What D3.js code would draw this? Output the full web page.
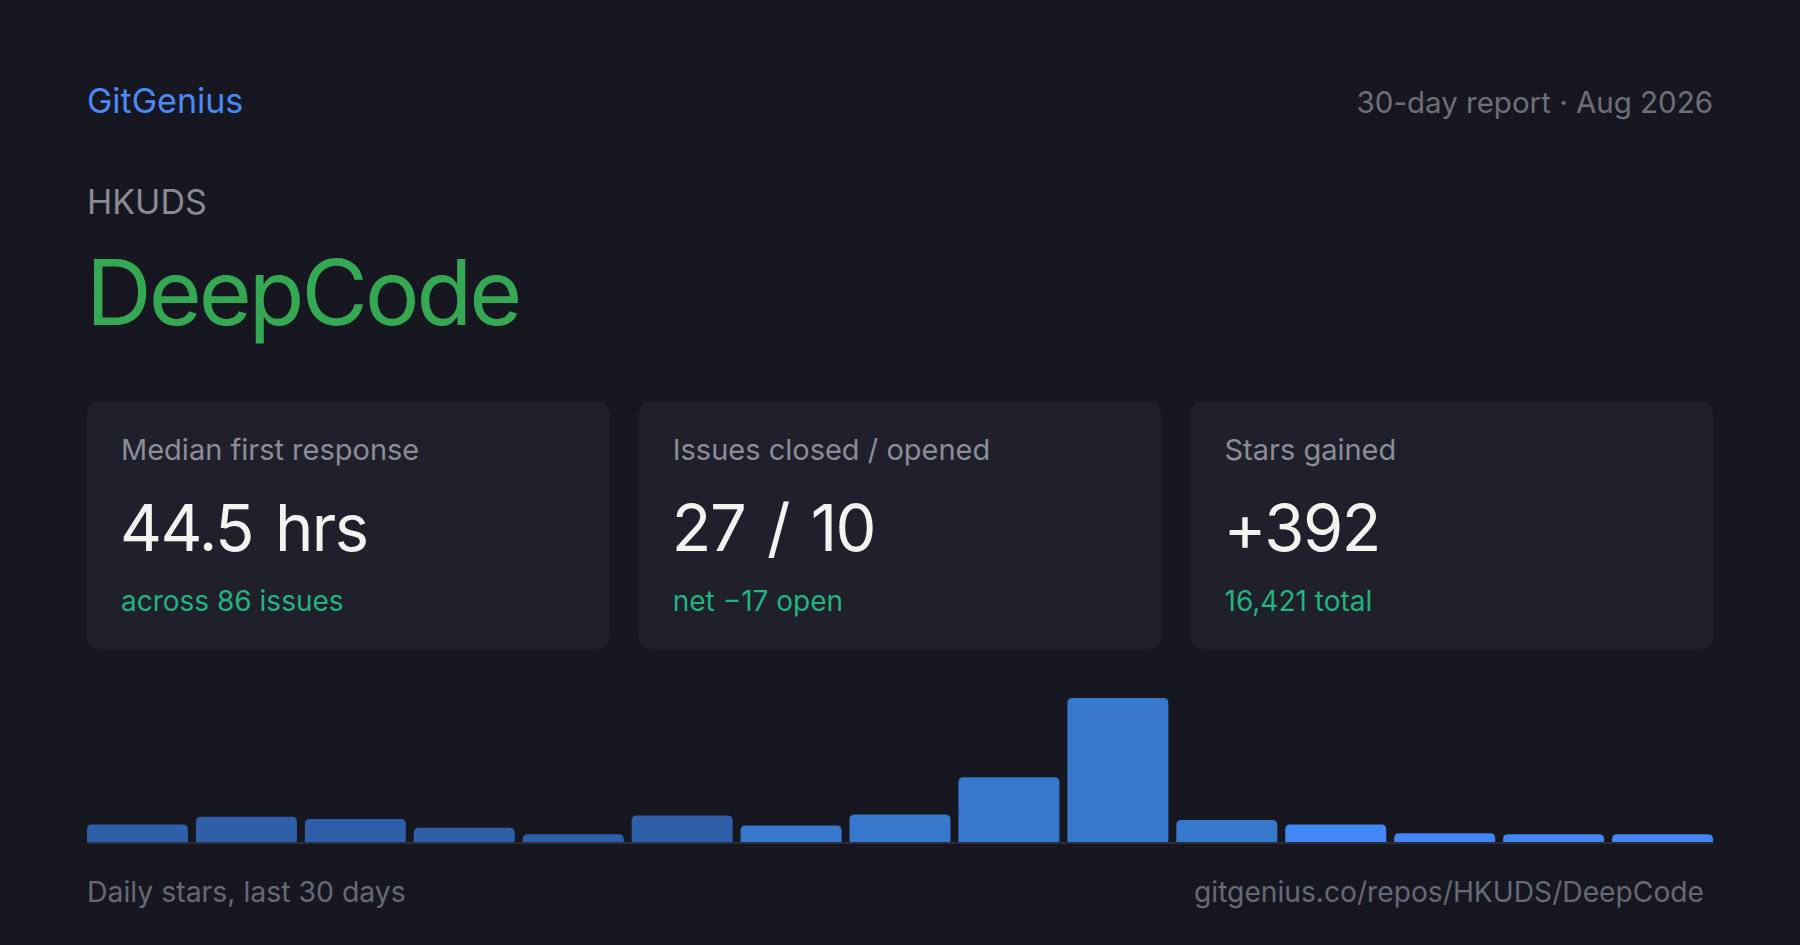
<!DOCTYPE html>
<html>
<head>
<meta charset="utf-8">
<script src="https://cdn.jsdelivr.net/npm/d3@7"></script>
<style>
  html, body { margin: 0; padding: 0; background: #161720; }
  svg { display: block; font-family: Inter, "Noto Sans", sans-serif; }
</style>
</head>
<body>
<div id="container"></div>
<script>
// Header text
const brand = "GitGenius";
const reportLabel = "30-day report · Aug 2026";
const owner = "HKUDS";
const repo = "DeepCode";

// Stat cards
const cardLabels = ["Median first response", "Issues closed / opened", "Stars gained"];
const cardValues = ["44.5 hrs", "27 / 10", "+392"];
const cardNotes = ["across 86 issues", "net −17 open", "16,421 total"];

// Daily stars, bucketed (15 bars over 30 days)
const starBuckets = [16, 23, 21, 13, 7, 24, 15, 25, 59, 131, 20, 16, 8, 7, 7];

const footerLeft = "Daily stars, last 30 days";
const footerRight = "gitgenius.co/repos/HKUDS/DeepCode";

const W = 1800, H = 945;
const left = 87, right = 1713;

const svg = d3.select("#container").append("svg")
    .attr("width", W)
    .attr("height", H);

svg.append("rect")
    .attr("width", W)
    .attr("height", H)
    .attr("fill", "#161720");

// Header
svg.append("text")
    .attr("x", left).attr("y", 113)
    .attr("fill", "#4a8af4")
    .style("font-size", "34px")
    .text(brand);

svg.append("text")
    .attr("x", right).attr("y", 113)
    .attr("text-anchor", "end")
    .attr("fill", "#6d6f7b")
    .style("font-size", "29.5px")
    .text(reportLabel);

svg.append("text")
    .attr("x", left).attr("y", 214)
    .attr("fill", "#8a8b95")
    .style("font-size", "34px")
    .text(owner);

svg.append("text")
    .attr("x", left - 1).attr("y", 325)
    .attr("fill", "#34a853")
    .style("font-size", "91px")
    .style("letter-spacing", "-3px")
    .text(repo);

// Cards
const cardX = d3.scaleBand()
    .domain(d3.range(cardLabels.length))
    .range([left, right])
    .paddingInner(0.053);

const cards = svg.selectAll(".card")
    .data(cardLabels)
    .enter().append("g")
    .attr("class", "card")
    .attr("transform", (d, i) => `translate(${cardX(i)},401)`);

cards.append("rect")
    .attr("width", cardX.bandwidth())
    .attr("height", 248)
    .attr("rx", 12)
    .attr("fill", "#1f202b");

cards.append("text")
    .attr("x", 34).attr("y", 59)
    .attr("fill", "#8b8d98")
    .style("font-size", "29px")
    .text(d => d);

cards.append("text")
    .attr("x", 33).attr("y", 150)
    .attr("fill", "#f3f3f0")
    .style("font-size", "65px")
    .style("letter-spacing", "-1.5px")
    .style("word-spacing", "5px")
    .text((d, i) => cardValues[i]);

cards.append("text")
    .attr("x", 34).attr("y", 210)
    .attr("fill", "#22b37f")
    .style("font-size", "28px")
    .text((d, i) => cardNotes[i]);

// Bars
const baseY = 842;
const x = d3.scaleBand()
    .domain(d3.range(starBuckets.length))
    .range([left, right])
    .paddingInner(0.073);

const y = d3.scaleLinear()
    .domain([0, d3.max(starBuckets)])
    .range([baseY, 698]);

function barColor(i) {
    if (i < 6) return "#2e5fa8";
    if (i < 11) return "#3778cc";
    return "#4287f5";
}

function topRounded(x0, y0, w, h, r) {
    r = Math.min(r, h, w / 2);
    return `M${x0},${y0 + h}V${y0 + r}Q${x0},${y0} ${x0 + r},${y0}` +
        `H${x0 + w - r}Q${x0 + w},${y0} ${x0 + w},${y0 + r}V${y0 + h}Z`;
}

svg.selectAll(".bar")
    .data(starBuckets)
    .enter().append("path")
    .attr("class", "bar")
    .attr("d", (d, i) => topRounded(x(i), y(d), x.bandwidth(), baseY - y(d), 5))
    .attr("fill", (d, i) => barColor(i));

svg.append("line")
    .attr("x1", left).attr("x2", right)
    .attr("y1", baseY + 1).attr("y2", baseY + 1)
    .attr("stroke", "#2b2d3a")
    .attr("stroke-width", 2);

// Footer
svg.append("text")
    .attr("x", left).attr("y", 902)
    .attr("fill", "#666976")
    .style("font-size", "28.4px")
    .text(footerLeft);

svg.append("text")
    .attr("x", 1704).attr("y", 902)
    .attr("text-anchor", "end")
    .attr("fill", "#666976")
    .style("font-size", "28.2px")
    .text(footerRight);
</script>
</body>
</html>
